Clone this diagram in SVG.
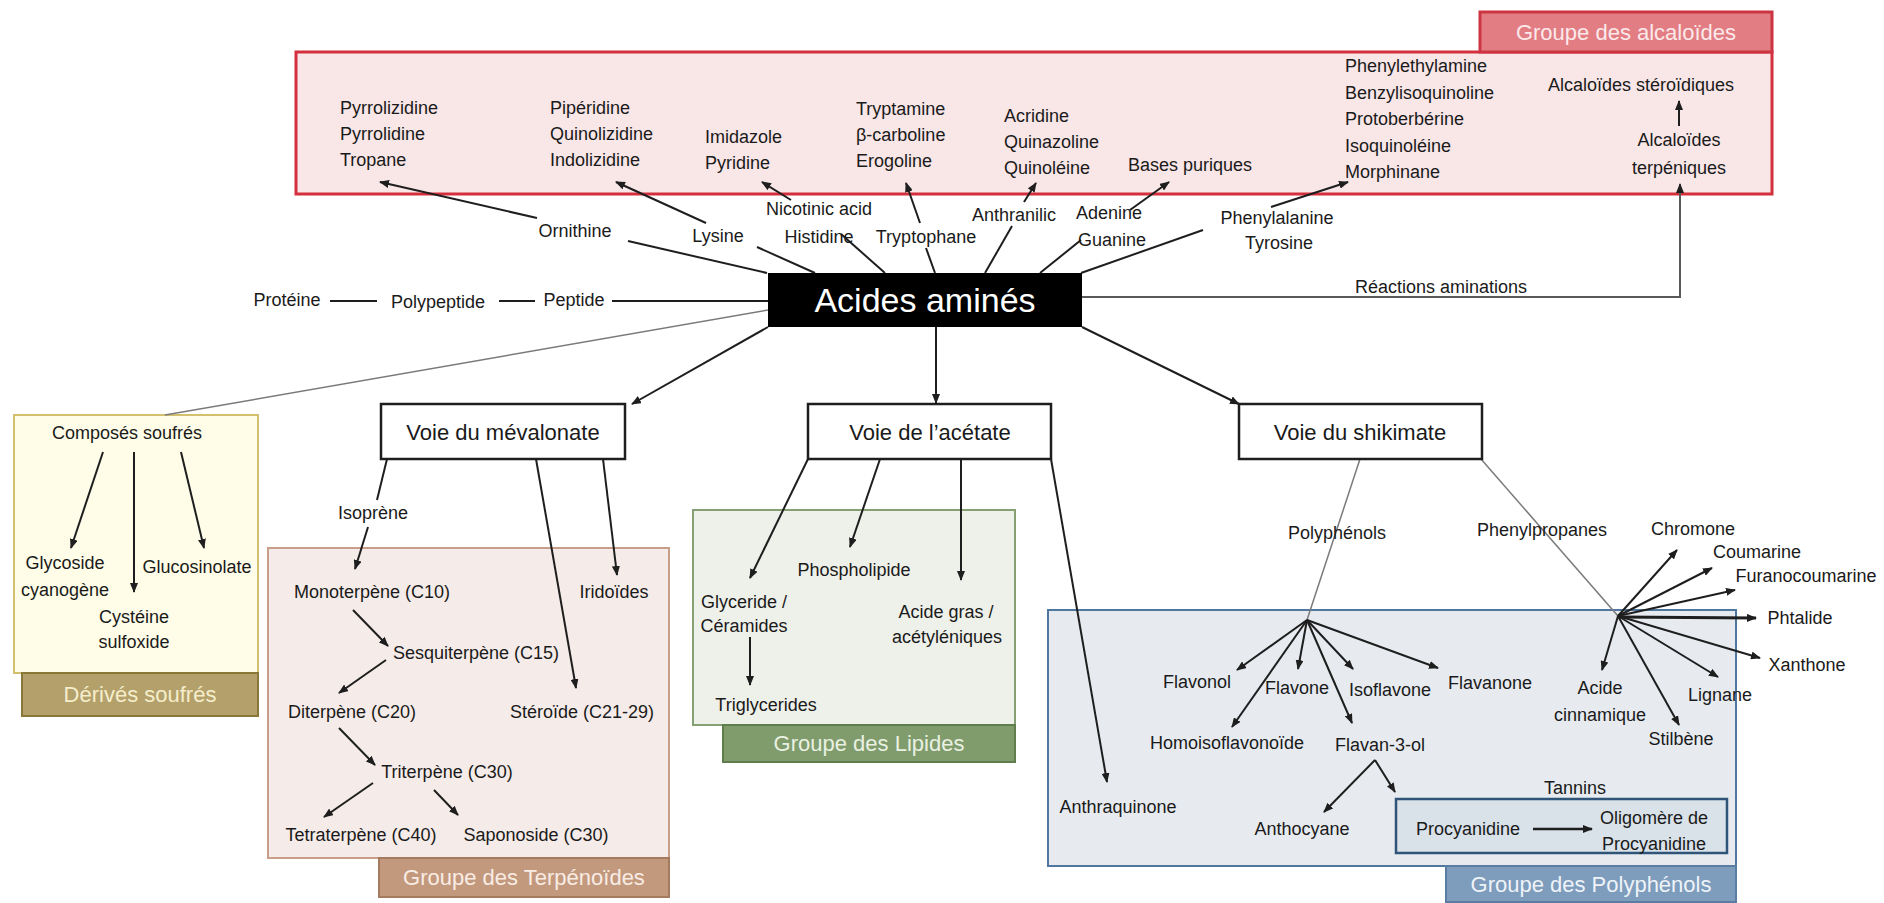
<svg xmlns="http://www.w3.org/2000/svg" width="1884" height="903" viewBox="0 0 1884 903">
<style>
text{font-family:"Liberation Sans",Arial,sans-serif;font-size:18px;fill:#1a1a1a;text-anchor:middle}
.l{text-anchor:start}
.box{font-size:22px}
.tab{font-size:22px}
.ln{stroke:#1e1e1e;stroke-width:2;fill:none}
.ar{stroke:#1e1e1e;stroke-width:2;fill:none;marker-end:url(#ah)}
.lg{stroke:#7a7a7a;stroke-width:1.5;fill:none}
.rg{stroke:#5a5a5a;stroke-width:2;fill:none;marker-end:url(#ah)}
.pw{fill:#fff;stroke:#1e1e1e;stroke-width:2.5}
</style>
<defs>
<marker id="ah" markerUnits="userSpaceOnUse" markerWidth="10" markerHeight="8" refX="9" refY="4" orient="auto">
<path d="M0,0 L10,4 L0,8 z" fill="#1e1e1e"/>
</marker>
</defs>
<rect width="1884" height="903" fill="#fff"/>

<!-- containers -->
<g id="grp-alcaloides">
<rect x="296" y="52" width="1476" height="142" fill="#f9e6e7" stroke="#d42f3c" stroke-width="3"/>
<rect x="1480" y="12" width="292" height="40" fill="#e27d83" stroke="#cc3541" stroke-width="3"/>
<text x="1626" y="40" class="tab" style="fill:#fbe9ea">Groupe des alcaloïdes</text>
</g>
<g id="grp-soufres">
<rect x="14" y="415" width="244" height="258" fill="#fffde8" stroke="#d3c06e" stroke-width="2"/>
<rect x="22" y="673" width="236" height="43" fill="#b4a06b" stroke="#8a7636" stroke-width="2"/>
<text x="140" y="702" class="tab" style="fill:#f5eecb">Dérivés soufrés</text>
</g>
<g id="grp-terpenoides">
<rect x="268" y="548" width="401" height="310" fill="#f5ece9" stroke="#c99e88" stroke-width="2"/>
<rect x="379" y="858" width="290" height="39" fill="#c3997e" stroke="#a67a5e" stroke-width="2"/>
<text x="524" y="885" class="tab" style="fill:#f8ece4">Groupe des Terpénoïdes</text>
</g>
<g id="grp-lipides">
<rect x="693" y="510" width="322" height="215" fill="#eef0ea" stroke="#86a073" stroke-width="2"/>
<rect x="723" y="725" width="292" height="37" fill="#809b6c" stroke="#5f7e4c" stroke-width="2"/>
<text x="869" y="751" class="tab" style="fill:#e9f1e2">Groupe des Lipides</text>
</g>
<g id="grp-polyphenols">
<rect x="1048" y="610" width="688" height="256" fill="#e7ebf0" stroke="#4f77a0" stroke-width="2"/>
<rect x="1446" y="866" width="290" height="36" fill="#7e9cbc" stroke="#5a7ea3" stroke-width="2"/>
<text x="1591" y="892" class="tab" style="fill:#eef3f8">Groupe des Polyphénols</text>
</g>
<g id="grp-tannins">
<rect x="1396" y="799" width="331" height="54" fill="#d9e1e9" stroke="#2f5478" stroke-width="2.5"/>
</g>

<!-- connectors -->
<g id="connectors">
<line class="ln" x1="330" y1="301" x2="377" y2="301"/>
<line class="ln" x1="499" y1="301" x2="535" y2="301"/>
<line class="ln" x1="612" y1="301" x2="768" y2="301"/>
<line class="ln" x1="628" y1="241" x2="767" y2="273"/>
<line class="ln" x1="757" y1="247" x2="815" y2="273"/>
<line class="ln" x1="841" y1="234" x2="885" y2="273"/>
<line class="ln" x1="926" y1="248" x2="935" y2="273"/>
<line class="ln" x1="1012" y1="226" x2="985" y2="273"/>
<line class="ln" x1="1081" y1="240" x2="1040" y2="273"/>
<line class="ln" x1="1203" y1="230" x2="1081" y2="273"/>
<line class="ar" x1="537" y1="218" x2="380" y2="182"/>
<line class="ar" x1="706" y1="223" x2="616" y2="182"/>
<line class="ar" x1="791" y1="200" x2="762" y2="182"/>
<line class="ar" x1="920" y1="223" x2="906" y2="183"/>
<line class="ar" x1="1024" y1="202" x2="1036" y2="183"/>
<line class="ar" x1="1130" y1="210" x2="1169" y2="182"/>
<line class="ar" x1="1271" y1="207" x2="1348" y2="182"/>
<line class="ar" x1="1679" y1="126" x2="1679" y2="101"/>
<path class="rg" d="M1082,297 H1680 V184"/>
<line class="lg" x1="768" y1="310" x2="165" y2="415"/>
<line class="ar" x1="768" y1="327" x2="632" y2="404"/>
<line class="ar" x1="936" y1="327" x2="936" y2="403"/>
<line class="ar" x1="1082" y1="327" x2="1239" y2="404"/>
<line class="ar" x1="103" y1="452" x2="71" y2="548"/>
<line class="ar" x1="134" y1="452" x2="134" y2="592"/>
<line class="ar" x1="181" y1="452" x2="204" y2="548"/>
<line class="ln" x1="387" y1="459" x2="377" y2="500"/>
<line class="ar" x1="368" y1="527" x2="355" y2="569"/>
<line class="ar" x1="536" y1="459" x2="576" y2="688"/>
<line class="ar" x1="603" y1="459" x2="617" y2="575"/>
<line class="ar" x1="353" y1="610" x2="388" y2="646"/>
<line class="ar" x1="386" y1="660" x2="339" y2="693"/>
<line class="ar" x1="339" y1="728" x2="375" y2="765"/>
<line class="ar" x1="373" y1="783" x2="324" y2="817"/>
<line class="ar" x1="434" y1="790" x2="458" y2="815"/>
<line class="ar" x1="808" y1="459" x2="750" y2="578"/>
<line class="ar" x1="880" y1="459" x2="850" y2="547"/>
<line class="ar" x1="961" y1="459" x2="961" y2="580"/>
<line class="ar" x1="750" y1="637" x2="750" y2="685"/>
<line class="ar" x1="1051" y1="459" x2="1107" y2="782"/>
<line class="lg" x1="1360" y1="459" x2="1307" y2="620"/>
<line class="lg" x1="1481" y1="459" x2="1618" y2="616"/>
<line class="ar" x1="1307" y1="620" x2="1237" y2="670"/>
<line class="ar" x1="1307" y1="620" x2="1232" y2="727"/>
<line class="ar" x1="1307" y1="620" x2="1298" y2="669"/>
<line class="ar" x1="1307" y1="620" x2="1352" y2="723"/>
<line class="ar" x1="1307" y1="620" x2="1353" y2="669"/>
<line class="ar" x1="1307" y1="620" x2="1438" y2="668"/>
<line class="ar" x1="1375" y1="760" x2="1324" y2="812"/>
<line class="ar" x1="1375" y1="760" x2="1395" y2="792"/>
<line class="ar" x1="1618" y1="616" x2="1677" y2="550"/>
<line class="ar" x1="1618" y1="616" x2="1712" y2="568"/>
<line class="ar" x1="1618" y1="616" x2="1735" y2="590"/>
<line class="ar" x1="1618" y1="617" x2="1756" y2="618" style="stroke-width:3"/>
<line class="ar" x1="1618" y1="616" x2="1760" y2="658"/>
<line class="ar" x1="1618" y1="616" x2="1718" y2="677"/>
<line class="ar" x1="1618" y1="616" x2="1679" y2="725"/>
<line class="ar" x1="1618" y1="616" x2="1602" y2="670"/>
<line class="ar" x1="1533" y1="829" x2="1592" y2="829" style="stroke-width:2.5"/>
</g>

<!-- main nodes -->
<g id="n-acides">
<rect x="768" y="273" width="314" height="54" fill="#000"/>
<text x="925" y="312" style="font-size:34px;fill:#fff">Acides aminés</text>
</g>
<g id="n-mevalonate">
<rect class="pw" x="381" y="404" width="244" height="55"/>
<text x="503" y="440" class="box">Voie du mévalonate</text>
</g>
<g id="n-acetate">
<rect class="pw" x="808" y="404" width="243" height="55"/>
<text x="930" y="440" class="box">Voie de l’acétate</text>
</g>
<g id="n-shikimate">
<rect class="pw" x="1239" y="404" width="243" height="55"/>
<text x="1360" y="440" class="box">Voie du shikimate</text>
</g>

<!-- alkaloid labels -->
<g id="n-pyrro"><text class="l" x="340" y="114">Pyrrolizidine</text><text class="l" x="340" y="140">Pyrrolidine</text><text class="l" x="340" y="166">Tropane</text></g>
<g id="n-piper"><text class="l" x="550" y="114">Pipéridine</text><text class="l" x="550" y="140">Quinolizidine</text><text class="l" x="550" y="166">Indolizidine</text></g>
<g id="n-imida"><text class="l" x="705" y="143">Imidazole</text><text class="l" x="705" y="169">Pyridine</text></g>
<g id="n-trypt"><text class="l" x="856" y="115">Tryptamine</text><text class="l" x="856" y="141">β-carboline</text><text class="l" x="856" y="167">Erogoline</text></g>
<g id="n-acrid"><text class="l" x="1004" y="122">Acridine</text><text class="l" x="1004" y="148">Quinazoline</text><text class="l" x="1004" y="174">Quinoléine</text></g>
<g id="n-bases"><text class="l" x="1128" y="171">Bases puriques</text></g>
<g id="n-phenyl"><text class="l" x="1345" y="72">Phenylethylamine</text><text class="l" x="1345" y="99">Benzylisoquinoline</text><text class="l" x="1345" y="125">Protoberbérine</text><text class="l" x="1345" y="152">Isoquinoléine</text><text class="l" x="1345" y="178">Morphinane</text></g>
<g id="n-steroid-alc"><text x="1641" y="91">Alcaloïdes stéroïdiques</text></g>
<g id="n-terp-alc"><text x="1679" y="146">Alcaloïdes</text><text x="1679" y="174">terpéniques</text></g>

<!-- amino acid labels -->
<g id="n-ornithine"><text x="575" y="237">Ornithine</text></g>
<g id="n-lysine"><text x="718" y="242">Lysine</text></g>
<g id="n-nicotinic"><text x="819" y="215">Nicotinic acid</text></g>
<g id="n-histidine"><text x="819" y="243">Histidine</text></g>
<g id="n-tryptophane"><text x="926" y="243">Tryptophane</text></g>
<g id="n-anthranilic"><text x="1014" y="221">Anthranilic</text></g>
<g id="n-adenine"><text x="1109" y="219">Adenine</text><text x="1112" y="246">Guanine</text></g>
<g id="n-phenylalanine"><text x="1277" y="224">Phenylalanine</text><text x="1279" y="249">Tyrosine</text></g>
<g id="n-reactions"><text x="1441" y="293">Réactions aminations</text></g>
<g id="n-proteine"><text x="287" y="306">Protéine</text></g>
<g id="n-polypeptide"><text x="438" y="308">Polypeptide</text></g>
<g id="n-peptide"><text x="574" y="306">Peptide</text></g>

<!-- sulfur -->
<g id="n-composes"><text x="127" y="439">Composés soufrés</text></g>
<g id="n-glycoside"><text x="65" y="569">Glycoside</text><text x="65" y="596">cyanogène</text></g>
<g id="n-glucosinolate"><text x="197" y="573">Glucosinolate</text></g>
<g id="n-cysteine"><text x="134" y="623">Cystéine</text><text x="134" y="648">sulfoxide</text></g>

<!-- terpenoids -->
<g id="n-isoprene"><text x="373" y="519">Isoprène</text></g>
<g id="n-mono"><text x="372" y="598">Monoterpène (C10)</text></g>
<g id="n-iridoides"><text x="614" y="598">Iridoïdes</text></g>
<g id="n-sesqui"><text x="476" y="659">Sesquiterpène (C15)</text></g>
<g id="n-di"><text x="352" y="718">Diterpène (C20)</text></g>
<g id="n-steroide"><text x="582" y="718">Stéroïde (C21-29)</text></g>
<g id="n-tri"><text x="447" y="778">Triterpène (C30)</text></g>
<g id="n-tetra"><text x="361" y="841">Tetraterpène (C40)</text></g>
<g id="n-sapo"><text x="536" y="841">Saponoside (C30)</text></g>

<!-- lipids -->
<g id="n-phospho"><text x="854" y="576">Phospholipide</text></g>
<g id="n-glyceride"><text x="744" y="608">Glyceride /</text><text x="744" y="632">Céramides</text></g>
<g id="n-acidegras"><text x="946" y="618">Acide gras /</text><text x="947" y="643">acétyléniques</text></g>
<g id="n-trigly"><text x="766" y="711">Triglycerides</text></g>

<!-- polyphenols -->
<g id="n-anthraquinone"><text x="1118" y="813">Anthraquinone</text></g>
<g id="n-polyphenols"><text x="1337" y="539">Polyphénols</text></g>
<g id="n-phenylpropanes"><text x="1542" y="536">Phenylpropanes</text></g>
<g id="n-chromone"><text x="1693" y="535">Chromone</text></g>
<g id="n-coumarine"><text x="1757" y="558">Coumarine</text></g>
<g id="n-furano"><text x="1806" y="582">Furanocoumarine</text></g>
<g id="n-phtalide"><text x="1800" y="624">Phtalide</text></g>
<g id="n-xanthone"><text x="1807" y="671">Xanthone</text></g>
<g id="n-lignane"><text x="1720" y="701">Lignane</text></g>
<g id="n-stilbene"><text x="1681" y="745">Stilbène</text></g>
<g id="n-cinnamique"><text x="1600" y="694">Acide</text><text x="1600" y="721">cinnamique</text></g>
<g id="n-flavonol"><text x="1197" y="688">Flavonol</text></g>
<g id="n-flavone"><text x="1297" y="694">Flavone</text></g>
<g id="n-isoflavone"><text x="1390" y="696">Isoflavone</text></g>
<g id="n-flavanone"><text x="1490" y="689">Flavanone</text></g>
<g id="n-homoiso"><text x="1227" y="749">Homoisoflavonoïde</text></g>
<g id="n-flavan"><text x="1380" y="751">Flavan-3-ol</text></g>
<g id="n-anthocyane"><text x="1302" y="835">Anthocyane</text></g>
<g id="n-tannins"><text x="1575" y="794">Tannins</text></g>
<g id="n-procyanidine"><text x="1468" y="835">Procyanidine</text></g>
<g id="n-oligomere"><text x="1654" y="824">Oligomère de</text><text x="1654" y="850">Procyanidine</text></g>
</svg>
